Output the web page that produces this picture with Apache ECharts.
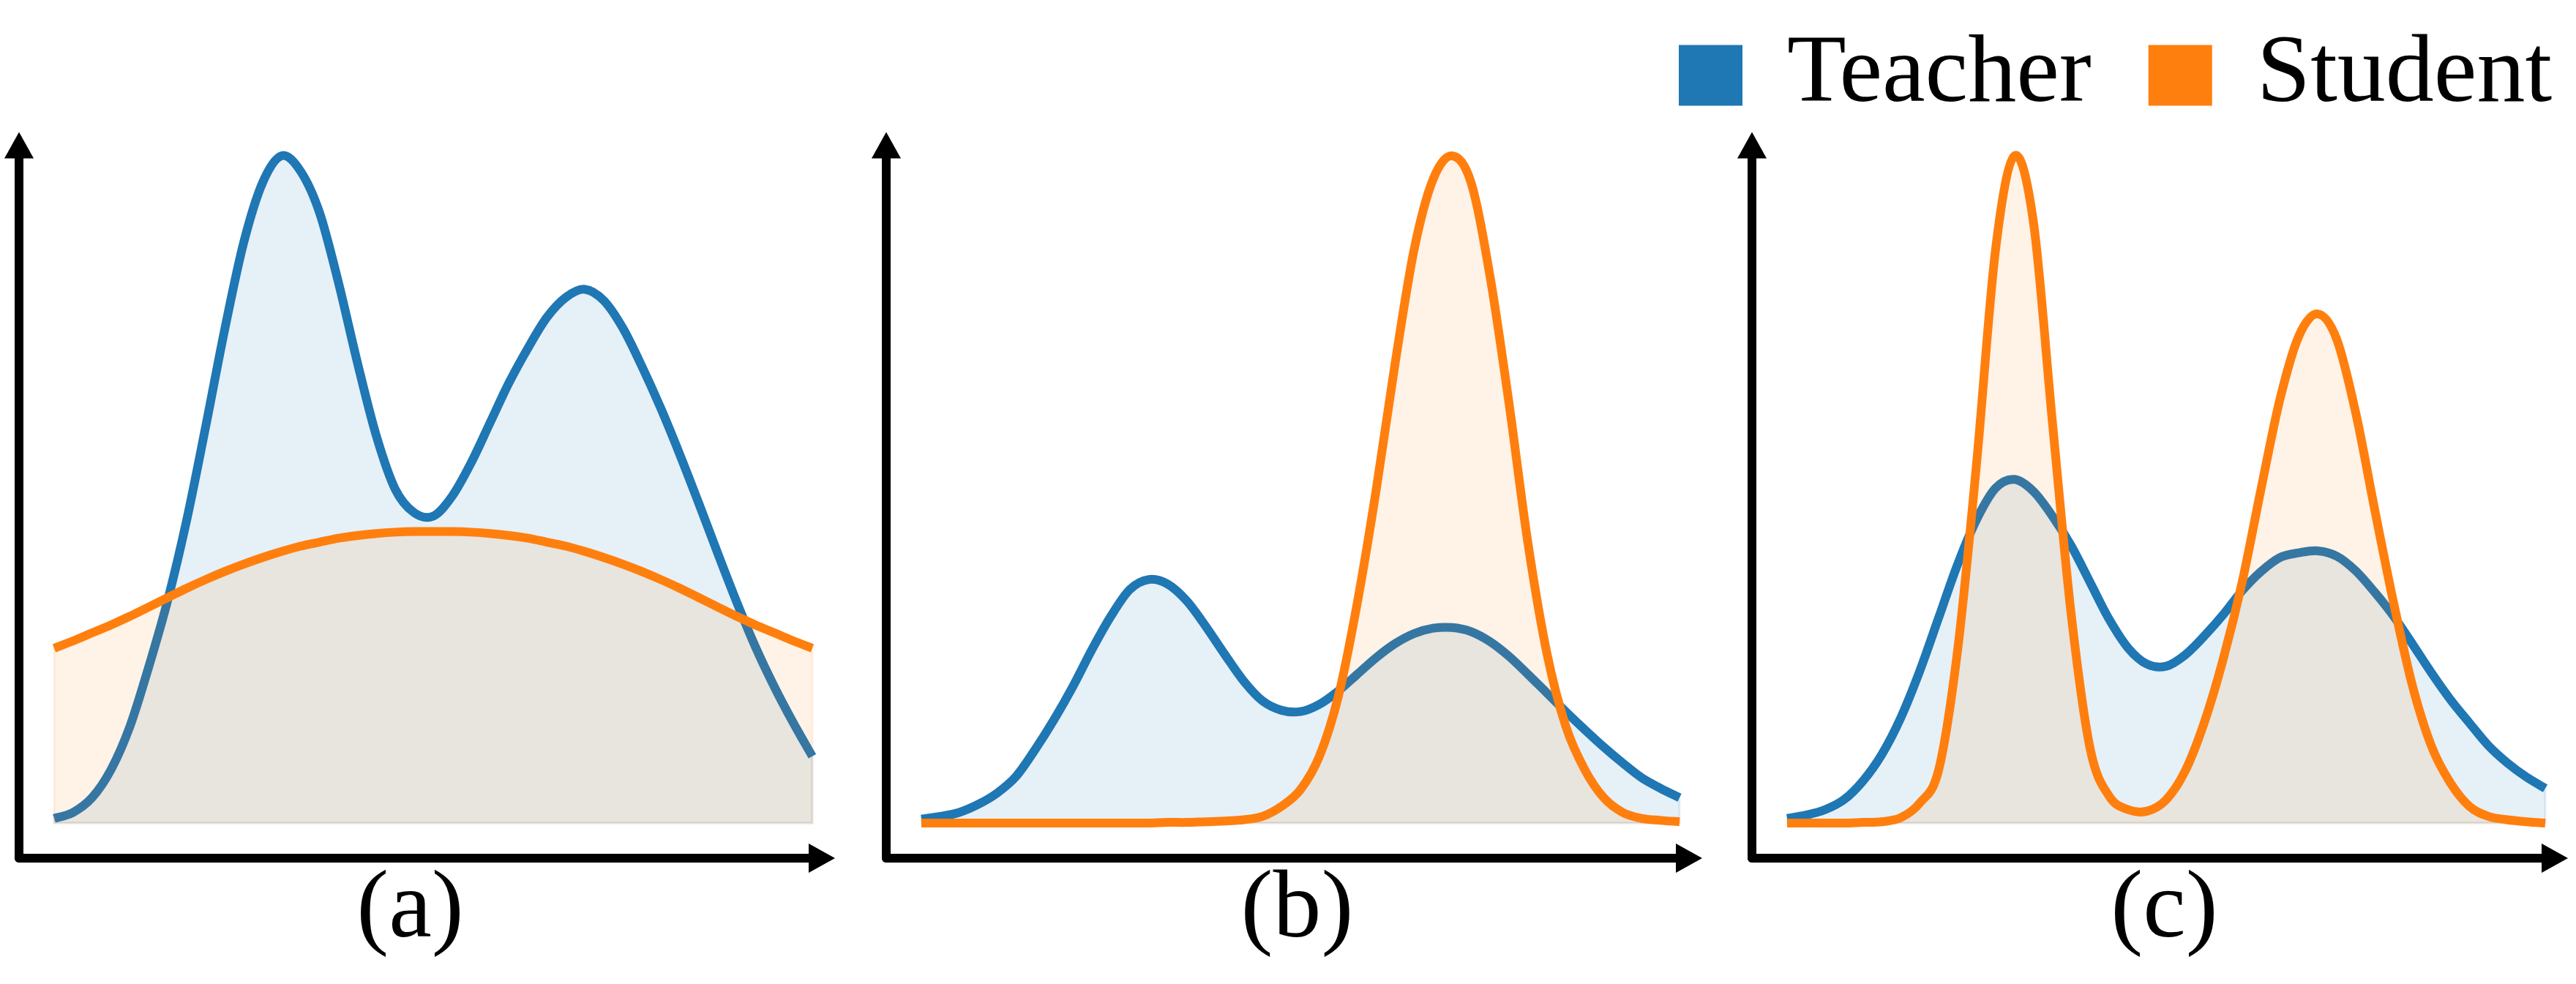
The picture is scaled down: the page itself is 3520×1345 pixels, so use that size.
<!DOCTYPE html>
<html><head><meta charset="utf-8">
<script src="https://cdn.jsdelivr.net/npm/echarts@6/dist/echarts.min.js"></script>
<style>html,body{margin:0;padding:0;background:#fff}#c{width:3520px;height:1345px}</style>
</head><body><div id="c"></div>
<script>
// sample positions along each panel (0 = left end of the curves, 100 = right end)
const xs = [0,2.5,5,7.5,10,12.5,15,17.5,20,22.5,25,27.5,30,32.5,35,37.5,40,42.5,45,47.5,50,52.5,55,57.5,60,62.5,65,67.5,70,72.5,75,77.5,80,82.5,85,87.5,90,92.5,95,97.5,100];
const panelLabels = ['(a)', '(b)', '(c)'];
const seriesNames = ['Teacher', 'Student'];

// (a)
const teacherA = [0.007,0.016,0.038,0.08,0.145,0.235,0.335,0.455,0.595,0.74,0.87,0.96,1.0,0.977,0.915,0.81,0.69,0.58,0.50,0.465,0.46,0.49,0.54,0.60,0.66,0.712,0.758,0.788,0.80,0.783,0.742,0.685,0.622,0.553,0.48,0.405,0.332,0.264,0.204,0.15,0.10];
const studentA = [0.262,0.273,0.285,0.297,0.31,0.324,0.338,0.352,0.365,0.377,0.388,0.398,0.407,0.415,0.421,0.427,0.431,0.434,0.436,0.437,0.437,0.437,0.436,0.434,0.431,0.427,0.421,0.415,0.407,0.398,0.388,0.377,0.365,0.352,0.338,0.324,0.31,0.297,0.285,0.273,0.262];
// (b)
const teacherB = [0.006,0.01,0.016,0.028,0.045,0.07,0.11,0.155,0.205,0.26,0.31,0.35,0.365,0.358,0.333,0.295,0.253,0.213,0.183,0.169,0.167,0.178,0.198,0.223,0.248,0.269,0.284,0.292,0.293,0.287,0.272,0.25,0.223,0.195,0.167,0.14,0.114,0.09,0.068,0.052,0.038];
const studentB = [0,0,0,0,0,0,0,0,0,0,0,0,0,0.001,0.001,0.002,0.003,0.005,0.01,0.025,0.05,0.1,0.19,0.33,0.50,0.69,0.86,0.965,1.0,0.96,0.82,0.63,0.42,0.255,0.145,0.08,0.038,0.016,0.007,0.004,0.002];
// (c)
const teacherC = [0.007,0.012,0.02,0.035,0.063,0.103,0.158,0.228,0.308,0.388,0.455,0.502,0.515,0.497,0.46,0.415,0.36,0.305,0.262,0.238,0.235,0.252,0.28,0.312,0.348,0.377,0.398,0.405,0.408,0.4,0.378,0.346,0.31,0.268,0.225,0.185,0.15,0.116,0.09,0.069,0.052];
const studentC = [0,0,0,0,0.001,0.002,0.008,0.03,0.08,0.26,0.54,0.86,1.0,0.90,0.60,0.31,0.11,0.04,0.02,0.018,0.035,0.078,0.15,0.245,0.36,0.50,0.635,0.73,0.763,0.725,0.615,0.47,0.33,0.205,0.115,0.06,0.025,0.01,0.005,0.002,0];

const teacherSets = [teacherA, teacherB, teacherC];
const studentSets = [studentA, studentB, studentC];

const BLUE = '#1f77b4', ORANGE = '#ff7f0e';
const panelLeft = [26, 1211, 2394];
const labelPad = [[0, 28, 0, 0], [0, 0, 0, 26], [0, 0, 0, 30]];

function pairs(vals) { return xs.map((x, i) => [x, vals[i]]); }

// Catmull-Rom spline through pixel points -> SVG path
function splinePath(p) {
  let s = 'M' + p[0][0] + ',' + p[0][1];
  for (let i = 0; i < p.length - 1; i++) {
    const p0 = p[i - 1] || p[i], p1 = p[i], p2 = p[i + 1], p3 = p[i + 2] || p[i + 1];
    const c1x = p1[0] + (p2[0] - p0[0]) / 6, c1y = p1[1] + (p2[1] - p0[1]) / 6;
    const c2x = p2[0] - (p3[0] - p1[0]) / 6, c2y = p2[1] - (p3[1] - p1[1]) / 6;
    s += ' C' + c1x + ',' + c1y + ' ' + c2x + ',' + c2y + ' ' + p2[0] + ',' + p2[1];
  }
  return s;
}

function makeCurve(k, name, vals, color, fill, z) {
  const data = pairs(vals);
  return {
    type: 'custom', name, coordinateSystem: 'cartesian2d', xAxisIndex: k, yAxisIndex: k,
    data, z, encode: { x: 0, y: 1 }, itemStyle: { color }, silent: true,
    renderItem: function (params, api) {
      if (params.dataIndex !== 0) return null;
      const pts = data.map(d => api.coord(d));
      const curve = splinePath(pts);
      const b0 = api.coord([data[0][0], 0]);
      const b1 = api.coord([data[data.length - 1][0], 0]);
      const area = curve + ' L' + b1[0] + ',' + b1[1] + ' L' + b0[0] + ',' + b0[1] + ' Z';
      return {
        type: 'group', children: [
          { type: 'path', shape: { pathData: area }, style: { fill: fill, stroke: fill, lineWidth: 3 } },
          { type: 'path', shape: { pathData: curve }, style: { fill: null, stroke: color, lineWidth: 12, lineCap: 'butt', lineJoin: 'round' } }
        ]
      };
    }
  };
}

const grids = [], xAxes = [], yAxes = [], series = [];
for (let k = 0; k < 3; k++) {
  grids.push({ left: panelLeft[k], top: 198.5, width: 1097, height: 974.5, containLabel: false });
  xAxes.push({
    gridIndex: k, type: 'value', min: -4.633, max: 101.255,
    name: panelLabels[k], nameLocation: 'middle', nameGap: 6,
    nameTextStyle: { fontFamily: 'Liberation Serif', fontSize: 132, color: '#000', padding: labelPad[k], verticalAlign: 'top' },
    axisLine: { show: true, onZero: false, symbol: ['none', 'triangle'], symbolSize: [40, 36],
      lineStyle: { color: '#000', width: 12, cap: 'round' } },
    axisTick: { show: false }, axisLabel: { show: false }, splitLine: { show: false }
  });
  yAxes.push({
    gridIndex: k, type: 'value', min: -0.05263, max: 1.0159,
    axisLine: { show: true, onZero: false, symbol: ['none', 'triangle'], symbolSize: [40, 36],
      lineStyle: { color: '#000', width: 12, cap: 'round' } },
    axisTick: { show: false }, axisLabel: { show: false }, splitLine: { show: false }
  });
  series.push(makeCurve(k, seriesNames[0], teacherSets[k], BLUE, 'rgba(31,119,180,0.11)', 2));
  series.push(makeCurve(k, seriesNames[1], studentSets[k], ORANGE, 'rgba(255,127,14,0.1)', 3));
}

const chart = echarts.init(document.getElementById('c'), null, { renderer: 'canvas' });
chart.setOption({
  backgroundColor: '#fff',
  animation: false,
  legend: {
    data: seriesNames, left: 2294, top: 37, padding: 0,
    icon: 'rect', itemWidth: 87, itemHeight: 83, itemGap: 78, selectedMode: false,
    textStyle: { fontFamily: 'Liberation Serif', fontSize: 132, color: '#000', padding: [0, 0, 0, 56] }
  },
  grid: grids, xAxis: xAxes, yAxis: yAxes, series
});
</script></body></html>
